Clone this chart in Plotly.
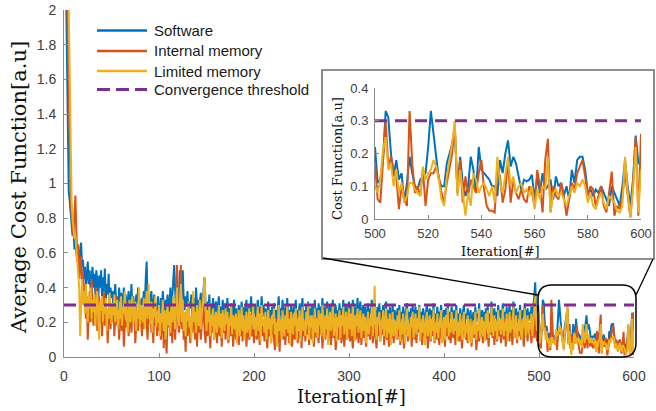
import numpy as np
import plotly.graph_objects as go

iterations = list(range(1, 601))

software_main = [
2.6, 2.2, 1.7, 1.2, 0.95, 0.9, 0.82, 0.78, 0.7, 0.74,
0.62, 0.66, 0.58, 0.55, 0.64, 0.5, 0.58, 0.66, 0.52, 0.56,
0.45, 0.52, 0.4, 0.48, 0.55, 0.42, 0.5, 0.38, 0.46, 0.52,
0.4, 0.48, 0.36, 0.5, 0.44, 0.32, 0.47, 0.4, 0.5, 0.35,
0.46, 0.38, 0.51, 0.33, 0.42, 0.36, 0.48, 0.3, 0.4, 0.34,
0.38, 0.28, 0.36, 0.42, 0.3, 0.35, 0.26, 0.4, 0.32, 0.37,
0.27, 0.34, 0.4, 0.29, 0.36, 0.24, 0.33, 0.38, 0.28, 0.32,
0.42, 0.26, 0.35, 0.3, 0.22, 0.36, 0.31, 0.4, 0.27, 0.33,
0.25, 0.34, 0.3, 0.38, 0.28, 0.45, 0.55, 0.32, 0.36, 0.26,
0.33, 0.38, 0.24, 0.3, 0.36, 0.22, 0.31, 0.27, 0.35, 0.2,
0.29, 0.34, 0.25, 0.38, 0.3, 0.22, 0.33, 0.27, 0.36, 0.24,
0.3, 0.4, 0.26, 0.35, 0.45, 0.53, 0.38, 0.28, 0.34, 0.25,
0.36, 0.5, 0.3, 0.42, 0.5, 0.33, 0.27, 0.35, 0.29, 0.38,
0.24, 0.32, 0.28, 0.36, 0.22, 0.3, 0.34, 0.26, 0.4, 0.29,
0.33, 0.25, 0.31, 0.37, 0.27, 0.35, 0.42, 0.46, 0.3, 0.24,
0.32, 0.26, 0.36, 0.21, 0.3, 0.27, 0.34, 0.19, 0.28, 0.32,
0.23, 0.3, 0.35, 0.25, 0.29, 0.2, 0.33, 0.27, 0.22, 0.31,
0.26, 0.34, 0.2, 0.28, 0.24, 0.31, 0.18, 0.27, 0.33, 0.22,
0.28, 0.17, 0.25, 0.3, 0.2, 0.26, 0.32, 0.23, 0.29, 0.19,
0.27, 0.33, 0.24, 0.2, 0.3, 0.26, 0.35, 0.22, 0.28, 0.25,
0.3, 0.2, 0.27, 0.33, 0.24, 0.29, 0.21, 0.35, 0.26, 0.3,
0.23, 0.28, 0.18, 0.26, 0.32, 0.22, 0.27, 0.2, 0.29, 0.25,
0.31, 0.22, 0.27, 0.19, 0.3, 0.35, 0.24, 0.28, 0.21, 0.33,
0.26, 0.2, 0.29, 0.24, 0.34, 0.22, 0.27, 0.18, 0.3, 0.25,
0.21, 0.29, 0.26, 0.33, 0.2, 0.27, 0.23, 0.31, 0.19, 0.28,
0.34, 0.22, 0.27, 0.2, 0.3, 0.25, 0.32, 0.21, 0.28, 0.24,
0.3, 0.19, 0.26, 0.33, 0.23, 0.28, 0.2, 0.31, 0.25, 0.29,
0.22, 0.34, 0.26, 0.2, 0.29, 0.24, 0.32, 0.18, 0.27, 0.3,
0.23, 0.28, 0.33, 0.21, 0.26, 0.3, 0.19, 0.27, 0.24, 0.31,
0.2, 0.28, 0.25, 0.33, 0.22, 0.27, 0.3, 0.2, 0.26, 0.32,
0.24, 0.3, 0.21, 0.33, 0.27, 0.2, 0.29, 0.25, 0.34, 0.22,
0.28, 0.32, 0.2, 0.26, 0.3, 0.23, 0.29, 0.19, 0.27, 0.31,
0.22, 0.28, 0.25, 0.33, 0.21, 0.27, 0.3, 0.24, 0.2, 0.29,
0.25, 0.31, 0.19, 0.27, 0.23, 0.3, 0.21, 0.26, 0.32, 0.2,
0.27, 0.22, 0.29, 0.18, 0.25, 0.3, 0.21, 0.27, 0.24, 0.2,
0.28, 0.23, 0.3, 0.19, 0.26, 0.22, 0.29, 0.25, 0.2, 0.27,
0.31, 0.22, 0.26, 0.18, 0.28, 0.24, 0.3, 0.2, 0.25, 0.29,
0.21, 0.27, 0.23, 0.3, 0.19, 0.26, 0.22, 0.28, 0.24, 0.18,
0.26, 0.3, 0.21, 0.25, 0.28, 0.2, 0.27, 0.23, 0.31, 0.19,
0.25, 0.22, 0.29, 0.2, 0.26, 0.24, 0.3, 0.18, 0.23, 0.27,
0.2, 0.28, 0.24, 0.31, 0.19, 0.26, 0.22, 0.29, 0.25, 0.21,
0.27, 0.23, 0.3, 0.18, 0.25, 0.21, 0.28, 0.24, 0.2, 0.26,
0.3, 0.19, 0.25, 0.22, 0.28, 0.2, 0.24, 0.27, 0.18, 0.23,
0.26, 0.21, 0.29, 0.2, 0.25, 0.23, 0.31, 0.19, 0.24, 0.27,
0.21, 0.26, 0.18, 0.28, 0.23, 0.3, 0.2, 0.25, 0.22, 0.32,
0.24, 0.2, 0.28, 0.22, 0.26, 0.19, 0.3, 0.23, 0.27, 0.21,
0.25, 0.31, 0.2, 0.26, 0.22, 0.29, 0.18, 0.24, 0.3, 0.21,
0.27, 0.23, 0.32, 0.2, 0.25, 0.28, 0.19, 0.26, 0.22, 0.3,
0.24, 0.2, 0.27, 0.23, 0.31, 0.19, 0.25, 0.28, 0.21, 0.26,
0.22, 0.29, 0.2, 0.27, 0.33, 0.43, 0.28, 0.24, 0.3, 0.22,
]
software_zoom = [
0.11, 0.12, 0.18, 0.33, 0.31, 0.2, 0.13, 0.18, 0.12, 0.14,
0.05, 0.11, 0.19, 0.14, 0.1, 0.09, 0.12, 0.13, 0.14, 0.22,
0.33, 0.26, 0.18, 0.12, 0.1, 0.1, 0.17, 0.2, 0.23, 0.28,
0.08, 0.19, 0.11, 0.07, 0.1, 0.19, 0.15, 0.08, 0.22, 0.15,
0.14, 0.13, 0.12, 0.1, 0.1, 0.07, 0.18, 0.14, 0.2, 0.24,
0.16, 0.19, 0.17, 0.13, 0.09, 0.12, 0.115, 0.12, 0.135, 0.06,
0.13, 0.08, 0.14, 0.09, 0.1, 0.12, 0.06, 0.13, 0.1, 0.11,
0.07, 0.1, 0.06, 0.15, 0.11, 0.18, 0.19, 0.19, 0.15, 0.08,
0.09, 0.07, 0.09, 0.08, 0.1, 0.08, 0.06, 0.04, 0.1, 0.08,
0.06, 0.04, 0.1, 0.18, 0.1, 0.04, 0.12, 0.255, 0.17, 0.175,
]

internal_main = [
2.8, 2.5, 2.2, 1.9, 1.45, 1.1, 0.95, 0.82, 0.75, 0.7,
0.82, 0.93, 0.72, 0.6, 0.65, 0.45, 0.55, 0.58, 0.4, 0.5,
0.3, 0.42, 0.22, 0.35, 0.1, 0.28, 0.38, 0.2, 0.45, 0.3,
0.18, 0.32, 0.25, 0.4, 0.15, 0.28, 0.35, 0.2, 0.3, 0.12,
0.26, 0.38, 0.18, 0.3, 0.22, 0.08, 0.25, 0.33, 0.16, 0.28,
0.2, 0.3, 0.12, 0.24, 0.35, 0.18, 0.27, 0.1, 0.22, 0.3,
0.15, 0.25, 0.06, 0.2, 0.32, 0.17, 0.26, 0.12, 0.22, 0.28,
0.14, 0.24, 0.19, 0.3, 0.08, 0.2, 0.26, 0.15, 0.35, 0.18,
0.22, 0.12, 0.28, 0.16, 0.24, 0.3, 0.18, 0.1, 0.25, 0.2,
0.28, 0.14, 0.22, 0.08, 0.26, 0.18, 0.3, 0.12, 0.2, 0.15,
0.24, 0.1, 0.18, 0.27, 0.05, 0.2, 0.15, 0.02, 0.22, 0.17,
0.26, 0.12, 0.2, 0.08, 0.3, 0.18, 0.1, 0.24, 0.53, 0.2,
0.14, 0.22, 0.53, 0.16, 0.25, 0.1, 0.18, 0.03, 0.2, 0.12,
0.24, 0.16, 0.08, 0.22, 0.14, 0.28, 0.18, 0.1, 0.25, 0.06,
0.2, 0.14, 0.26, 0.1, 0.18, 0.24, 0.3, 0.15, 0.08, 0.2,
0.12, 0.22, 0.16, 0.05, 0.2, 0.14, 0.25, 0.1, 0.18, 0.22,
0.08, 0.16, 0.24, 0.12, 0.2, 0.06, 0.18, 0.14, 0.22, 0.1,
0.17, 0.25, 0.08, 0.14, 0.2, 0.12, 0.22, 0.06, 0.16, 0.24,
0.1, 0.18, 0.14, 0.07, 0.2, 0.12, 0.24, 0.09, 0.17, 0.13,
0.22, 0.06, 0.15, 0.2, 0.1, 0.18, 0.25, 0.12, 0.16, 0.08,
0.2, 0.14, 0.1, 0.24, 0.16, 0.07, 0.19, 0.28, 0.12, 0.17,
0.09, 0.21, 0.14, 0.05, 0.18, 0.12, 0.23, 0.08, 0.16, 0.2,
0.11, 0.04, 0.17, 0.22, 0.09, 0.15, 0.03, 0.19, 0.13, 0.24,
0.1, 0.16, 0.07, 0.2, 0.12, 0.26, 0.08, 0.15, 0.19, 0.06,
0.14, 0.2, 0.1, 0.17, 0.24, 0.08, 0.15, 0.11, 0.21, 0.05,
0.18, 0.12, 0.22, 0.09, 0.16, 0.13, 0.25, 0.07, 0.19, 0.14,
0.1, 0.2, 0.06, 0.17, 0.23, 0.11, 0.15, 0.08, 0.2, 0.13,
0.18, 0.05, 0.14, 0.21, 0.1, 0.16, 0.24, 0.09, 0.13, 0.19,
0.07, 0.15, 0.22, 0.11, 0.17, 0.04, 0.14, 0.2, 0.1, 0.16,
0.23, 0.08, 0.13, 0.19, 0.06, 0.16, 0.21, 0.1, 0.14, 0.18,
0.09, 0.2, 0.12, 0.05, 0.17, 0.23, 0.1, 0.15, 0.19, 0.08,
0.14, 0.21, 0.07, 0.16, 0.11, 0.24, 0.13, 0.06, 0.18, 0.12,
0.2, 0.1, 0.15, 0.22, 0.08, 0.14, 0.19, 0.11, 0.05, 0.17,
0.12, 0.21, 0.09, 0.16, 0.13, 0.24, 0.07, 0.15, 0.2, 0.1,
0.17, 0.06, 0.13, 0.19, 0.11, 0.22, 0.08, 0.15, 0.12, 0.18,
0.1, 0.16, 0.21, 0.07, 0.14, 0.19, 0.11, 0.05, 0.17, 0.13,
0.22, 0.09, 0.15, 0.12, 0.18, 0.06, 0.2, 0.13, 0.1, 0.16,
0.08, 0.19, 0.14, 0.23, 0.1, 0.15, 0.07, 0.18, 0.12, 0.2,
0.11, 0.16, 0.05, 0.14, 0.2, 0.09, 0.17, 0.12, 0.22, 0.08,
0.15, 0.1, 0.19, 0.13, 0.07, 0.16, 0.21, 0.09, 0.14, 0.18,
0.06, 0.17, 0.12, 0.2, 0.1, 0.15, 0.08, 0.19, 0.13, 0.11,
0.18, 0.07, 0.22, 0.12, 0.16, 0.09, 0.2, 0.14, 0.05, 0.17,
0.13, 0.19, 0.1, 0.15, 0.08, 0.21, 0.12, 0.17, 0.06, 0.14,
0.2, 0.11, 0.16, 0.04, 0.13, 0.18, 0.09, 0.22, 0.12, 0.15,
0.08, 0.17, 0.12, 0.2, 0.1, 0.14, 0.06, 0.19, 0.13, 0.21,
0.11, 0.16, 0.07, 0.18, 0.13, 0.09, 0.2, 0.12, 0.15, 0.08,
0.19, 0.14, 0.1, 0.22, 0.06, 0.16, 0.12, 0.18, 0.09, 0.24,
0.13, 0.07, 0.17, 0.11, 0.2, 0.15, 0.08, 0.19, 0.12, 0.16,
0.1, 0.21, 0.14, 0.06, 0.18, 0.12, 0.16, 0.09, 0.2, 0.13,
0.17, 0.08, 0.15, 0.22, 0.11, 0.3, 0.14, 0.09, 0.2, 0.17,
]
internal_zoom = [
0.06, 0.05, 0.18, 0.3, 0.16, 0.19, 0.15, 0.13, 0.03, 0.1,
0.06, 0.04, 0.33, 0.17, 0.08, 0.1, 0.07, 0.15, 0.04, 0.12,
0.14, 0.14, 0.16, 0.13, 0.08, 0.05, 0.11, 0.15, 0.2, 0.28,
0.08, 0.18, 0.05, 0.13, 0.07, 0.12, 0.1, 0.08, 0.14, 0.18,
0.09, 0.04, 0.025, 0.025, 0.02, 0.16, 0.13, 0.05, 0.09, 0.18,
0.05, 0.12, 0.08, 0.06, 0.09, 0.06, 0.05, 0.1, 0.08, 0.04,
0.15, 0.1, 0.02, 0.18, 0.245, 0.02, 0.1, 0.07, 0.06, 0.11,
0.07, 0.01, 0.06, 0.11, 0.09, 0.14, 0.16, 0.18, 0.13, 0.07,
0.1, 0.09, 0.04, 0.07, 0.1, 0.04, 0.02, 0.08, 0.145, 0.01,
0.04, 0.03, 0.07, 0.14, 0.07, 0.005, 0.1, 0.25, 0.01, 0.26,
]

limited_main = [
3.0, 2.8, 2.5, 2.2, 2.0, 1.6, 1.2, 0.9, 0.8, 0.72,
0.68, 0.7, 0.62, 0.55, 0.48, 0.4, 0.12, 0.35, 0.45, 0.3,
0.38, 0.25, 0.42, 0.3, 0.2, 0.35, 0.28, 0.4, 0.22, 0.33,
0.26, 0.36, 0.18, 0.3, 0.38, 0.24, 0.1, 0.32, 0.27, 0.35,
0.2, 0.3, 0.25, 0.34, 0.15, 0.28, 0.22, 0.37, 0.26, 0.19,
0.31, 0.24, 0.36, 0.2, 0.28, 0.33, 0.16, 0.27, 0.22, 0.35,
0.18, 0.29, 0.25, 0.38, 0.21, 0.3, 0.14, 0.26, 0.33, 0.2,
0.28, 0.35, 0.19, 0.24, 0.32, 0.15, 0.27, 0.22, 0.4, 0.18,
0.3, 0.25, 0.2, 0.34, 0.16, 0.28, 0.38, 0.22, 0.42, 0.26,
0.19, 0.32, 0.14, 0.28, 0.23, 0.35, 0.17, 0.26, 0.2, 0.3,
0.12, 0.25, 0.2, 0.33, 0.15, 0.27, 0.1, 0.22, 0.3, 0.18,
0.26, 0.14, 0.3, 0.2, 0.35, 0.24, 0.16, 0.29, 0.4, 0.22,
0.18, 0.3, 0.42, 0.2, 0.33, 0.15, 0.26, 0.12, 0.28, 0.21,
0.32, 0.17, 0.24, 0.1, 0.28, 0.38, 0.2, 0.26, 0.14, 0.3,
0.22, 0.18, 0.33, 0.16, 0.25, 0.3, 0.38, 0.46, 0.24, 0.15,
0.27, 0.2, 0.31, 0.12, 0.24, 0.18, 0.28, 0.1, 0.22, 0.26,
0.14, 0.23, 0.3, 0.17, 0.25, 0.11, 0.27, 0.2, 0.15, 0.28,
0.19, 0.26, 0.1, 0.22, 0.18, 0.3, 0.13, 0.24, 0.2, 0.16,
0.25, 0.08, 0.2, 0.27, 0.12, 0.22, 0.29, 0.15, 0.24, 0.1,
0.2, 0.26, 0.14, 0.18, 0.28, 0.11, 0.24, 0.19, 0.3, 0.16,
0.23, 0.12, 0.21, 0.29, 0.15, 0.25, 0.09, 0.3, 0.18, 0.22,
0.14, 0.26, 0.1, 0.2, 0.27, 0.16, 0.22, 0.08, 0.24, 0.19,
0.28, 0.13, 0.2, 0.06, 0.25, 0.3, 0.15, 0.21, 0.1, 0.27,
0.18, 0.12, 0.24, 0.16, 0.3, 0.14, 0.22, 0.07, 0.26, 0.19,
0.13, 0.25, 0.18, 0.28, 0.1, 0.22, 0.16, 0.27, 0.09, 0.2,
0.29, 0.15, 0.21, 0.12, 0.26, 0.18, 0.31, 0.1, 0.23, 0.17,
0.24, 0.08, 0.2, 0.28, 0.14, 0.22, 0.11, 0.27, 0.18, 0.25,
0.12, 0.3, 0.19, 0.1, 0.24, 0.16, 0.28, 0.07, 0.21, 0.26,
0.15, 0.22, 0.3, 0.12, 0.2, 0.25, 0.09, 0.23, 0.17, 0.27,
0.11, 0.24, 0.18, 0.29, 0.13, 0.21, 0.26, 0.1, 0.19, 0.28,
0.16, 0.25, 0.12, 0.3, 0.2, 0.09, 0.24, 0.18, 0.28, 0.14,
0.21, 0.27, 0.11, 0.19, 0.25, 0.15, 0.23, 0.08, 0.2, 0.26,
0.13, 0.22, 0.18, 0.29, 0.12, 0.24, 0.41, 0.17, 0.1, 0.23,
0.19, 0.26, 0.09, 0.21, 0.16, 0.27, 0.12, 0.2, 0.28, 0.11,
0.22, 0.14, 0.25, 0.07, 0.18, 0.26, 0.12, 0.21, 0.17, 0.1,
0.24, 0.16, 0.27, 0.09, 0.2, 0.13, 0.25, 0.18, 0.08, 0.22,
0.28, 0.12, 0.19, 0.1, 0.23, 0.17, 0.26, 0.11, 0.2, 0.25,
0.13, 0.22, 0.16, 0.29, 0.09, 0.2, 0.14, 0.24, 0.18, 0.07,
0.21, 0.26, 0.12, 0.18, 0.24, 0.1, 0.22, 0.15, 0.28, 0.09,
0.19, 0.14, 0.25, 0.11, 0.2, 0.17, 0.27, 0.08, 0.16, 0.23,
0.1, 0.24, 0.17, 0.28, 0.12, 0.2, 0.14, 0.26, 0.19, 0.13,
0.22, 0.15, 0.27, 0.09, 0.2, 0.12, 0.25, 0.18, 0.1, 0.21,
0.26, 0.11, 0.19, 0.14, 0.24, 0.09, 0.17, 0.22, 0.08, 0.16,
0.21, 0.13, 0.26, 0.1, 0.19, 0.15, 0.28, 0.11, 0.18, 0.23,
0.12, 0.2, 0.09, 0.25, 0.16, 0.27, 0.11, 0.2, 0.14, 0.29,
0.17, 0.12, 0.24, 0.15, 0.21, 0.1, 0.27, 0.16, 0.22, 0.13,
0.19, 0.28, 0.12, 0.2, 0.15, 0.25, 0.09, 0.17, 0.26, 0.14,
0.21, 0.16, 0.29, 0.11, 0.18, 0.24, 0.1, 0.2, 0.15, 0.27,
0.14, 0.1, 0.22, 0.17, 0.28, 0.12, 0.19, 0.24, 0.13, 0.2,
0.16, 0.25, 0.12, 0.2, 0.27, 0.35, 0.22, 0.15, 0.26, 0.1,
]
limited_zoom = [
0.08, 0.12, 0.21, 0.25, 0.15, 0.17, 0.1, 0.15, 0.08, 0.11,
0.05, 0.07, 0.11, 0.11, 0.09, 0.08, 0.07, 0.16, 0.12, 0.14,
0.15, 0.18, 0.16, 0.12, 0.06, 0.04, 0.13, 0.18, 0.23, 0.3,
0.07, 0.15, 0.08, 0.01, 0.08, 0.04, 0.14, 0.12, 0.08, 0.1,
0.11, 0.09, 0.07, 0.1, 0.05, 0.19, 0.11, 0.08, 0.13, 0.19,
0.1, 0.13, 0.08, 0.1, 0.11, 0.08, 0.09, 0.07, 0.1, 0.03,
0.09, 0.06, 0.1, 0.09, 0.19, 0.02, 0.08, 0.09, 0.07, 0.08,
0.06, 0.04, 0.07, 0.1, 0.08, 0.11, 0.1, 0.12, 0.1, 0.05,
0.08, 0.04, 0.03, 0.06, 0.08, 0.05, 0.03, 0.07, 0.06, 0.05,
0.025, 0.02, 0.04, 0.19, 0.08, 0.005, 0.09, 0.22, 0.02, 0.15,
]

threshold = 0.3
series_names = ["Software", "Internal memory", "Limited memory"]
series_colors = ["#0072BD", "#D95319", "#EDB120"]
threshold_color = "#7E2F8E"
x_ticks = [0, 100, 200, 300, 400, 500, 600]
y_ticks = [0, 0.2, 0.4, 0.6, 0.8, 1, 1.2, 1.4, 1.6, 1.8, 2]
inset_x_ticks = [500, 520, 540, 560, 580, 600]
inset_y_ticks = [0, 0.1, 0.2, 0.3, 0.4]

series_values = [software_main + software_zoom,
                 internal_main + internal_zoom,
                 limited_main + limited_zoom]
for s in series_values:
    assert len(s) == len(iterations), len(s)

W, H = 656, 411
def px(x):
    return x / W
def py(y):
    return 1 - y / H

x_arr = np.array(iterations)
mask = x_arr >= 500

fig = go.Figure()
for name, vals, col in zip(series_names, series_values, series_colors):
    fig.add_trace(go.Scatter(x=iterations, y=vals, mode="lines", name=name,
                             line=dict(color=col, width=2), showlegend=False,
                             xaxis="x", yaxis="y"))
fig.add_trace(go.Scatter(x=[0, 600], y=[threshold, threshold], mode="lines",
                         name="Convergence threshold", showlegend=False,
                         line=dict(color=threshold_color, width=3, dash="12px,8px"),
                         xaxis="x", yaxis="y"))
for name, vals, col in zip(series_names, series_values, series_colors):
    v = np.array(vals)
    fig.add_trace(go.Scatter(x=x_arr[mask], y=v[mask], mode="lines", name=name,
                             line=dict(color=col, width=2), showlegend=False,
                             xaxis="x2", yaxis="y2"))
fig.add_trace(go.Scatter(x=[500, 600], y=[threshold, threshold], mode="lines",
                         name="Convergence threshold", showlegend=False,
                         line=dict(color=threshold_color, width=3, dash="12px,8px"),
                         xaxis="x2", yaxis="y2"))

tick_font = dict(family="Liberation Sans, Arial, sans-serif", size=14, color="#404040")
axis_common = dict(showgrid=False, zeroline=False, showline=True, linecolor="#8a8a8a",
                   linewidth=1, ticks="inside", ticklen=4, tickcolor="#8a8a8a",
                   mirror=False, automargin=False)

shapes = []
# inset frame
shapes.append(dict(type="rect", xref="paper", yref="paper", x0=px(322), x1=px(654),
                   y0=py(259), y1=py(70), line=dict(color="#6e6e6e", width=1.6),
                   fillcolor="white", layer="below"))
# rounded zoom box
L, R, T, B, r = 538, 636, 285, 357, 14
path = (f"M {px(L+r)},{py(T)} L {px(R-r)},{py(T)} Q {px(R)},{py(T)} {px(R)},{py(T+r)} "
        f"L {px(R)},{py(B-r)} Q {px(R)},{py(B)} {px(R-r)},{py(B)} "
        f"L {px(L+r)},{py(B)} Q {px(L)},{py(B)} {px(L)},{py(B-r)} "
        f"L {px(L)},{py(T+r)} Q {px(L)},{py(T)} {px(L+r)},{py(T)} Z")
shapes.append(dict(type="path", xref="paper", yref="paper", path=path,
                   line=dict(color="black", width=1.5), layer="above"))
# connectors
shapes.append(dict(type="line", xref="paper", yref="paper", x0=px(323), y0=py(258),
                   x1=px(538), y1=py(295), line=dict(color="black", width=1.3)))
shapes.append(dict(type="line", xref="paper", yref="paper", x0=px(653), y0=py(259),
                   x1=px(636), y1=py(295), line=dict(color="black", width=1.3)))

# manual legend
legend_rows = [30.5, 51, 71, 89.5]
annotations = []
leg_names = series_names + ["Convergence threshold"]
leg_colors = series_colors + [threshold_color]
for i, (nm, col, yy) in enumerate(zip(leg_names, leg_colors, legend_rows)):
    if i < 3:
        shapes.append(dict(type="line", xref="paper", yref="paper", x0=px(97), x1=px(147),
                           y0=py(yy), y1=py(yy), line=dict(color=col, width=2.5)))
    else:
        shapes.append(dict(type="line", xref="paper", yref="paper", x0=px(97), x1=px(147),
                           y0=py(yy), y1=py(yy), line=dict(color=col, width=3, dash="13px,6px")))
    annotations.append(dict(xref="paper", yref="paper", x=px(152), y=py(yy), text=nm,
                            showarrow=False, xanchor="left", yanchor="middle",
                            font=dict(family="Liberation Sans, Arial, sans-serif", size=15, color="#1a1a1a")))

serif = "DejaVu Serif, serif"
annotations.append(dict(xref="paper", yref="paper", x=px(19), y=py(188),
                        text="Average Cost Function[a.u]", showarrow=False, textangle=-90,
                        xanchor="center", yanchor="middle",
                        font=dict(family=serif, size=21, color="#111")))
annotations.append(dict(xref="paper", yref="paper", x=px(351), y=py(396),
                        text="Iteration[#]", showarrow=False,
                        xanchor="center", yanchor="middle",
                        font=dict(family=serif, size=18, color="#111")))
annotations.append(dict(xref="paper", yref="paper", x=px(337), y=py(159),
                        text="Cost Function[a.u]", showarrow=False, textangle=-90,
                        xanchor="center", yanchor="middle",
                        font=dict(family=serif, size=13, color="#111")))
annotations.append(dict(xref="paper", yref="paper", x=px(500), y=py(251),
                        text="Iteration[#]", showarrow=False,
                        xanchor="center", yanchor="middle",
                        font=dict(family=serif, size=13, color="#111")))

fig.update_layout(
    width=W, height=H, margin=dict(l=0, r=0, t=0, b=0, autoexpand=False),
    paper_bgcolor="white", plot_bgcolor="rgba(0,0,0,0)",
    showlegend=False,
    xaxis=dict(domain=[px(64), px(634)], range=[0, 600], tickvals=x_ticks,
               ticktext=[str(t) for t in x_ticks], tickfont=tick_font, anchor="y",
               ticklabelstandoff=6, **axis_common),
    yaxis=dict(domain=[py(357), py(10)], range=[0, 2], tickvals=y_ticks,
               ticktext=[("%g" % t) for t in y_ticks], tickfont=tick_font, anchor="x",
               ticklabelstandoff=4, **axis_common),
    xaxis2=dict(domain=[px(375), px(641)], range=[500, 600], tickvals=inset_x_ticks,
                ticktext=[str(t) for t in inset_x_ticks],
                tickfont=dict(tick_font, size=13), anchor="y2",
                ticklabelstandoff=2, **axis_common),
    yaxis2=dict(domain=[py(219), py(88)], range=[0, 0.4], tickvals=inset_y_ticks,
                ticktext=[("%g" % t) for t in inset_y_ticks],
                tickfont=dict(tick_font, size=13), anchor="x2",
                ticklabelstandoff=3, **axis_common),
    shapes=shapes, annotations=annotations,
)

# remove the default 8 px page margin so the 656x411 figure fills the window
fig.write_html("out.html", config={"displayModeBar": False},
               post_script="document.body.style.margin='0';document.body.style.padding='0';")
